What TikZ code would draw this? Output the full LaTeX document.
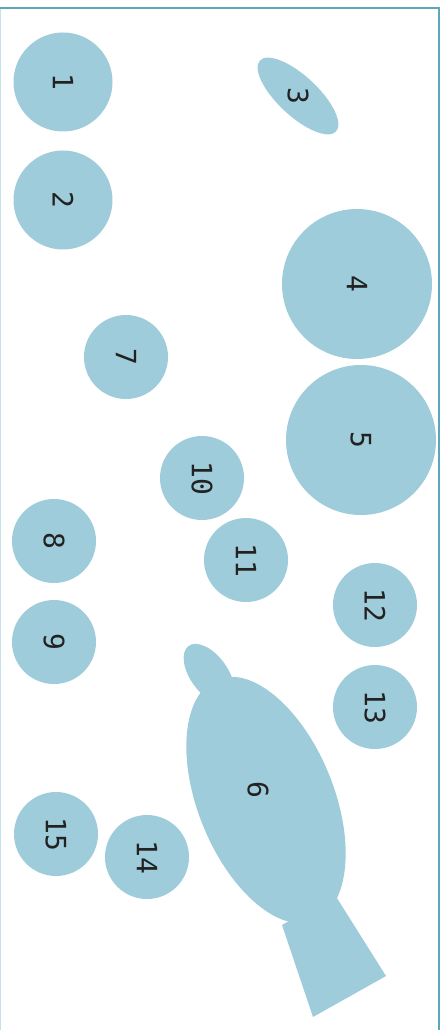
\documentclass[tikz,border=0pt]{standalone}
\usepackage{fontspec}
\newfontfamily\numfont{DejaVu Sans Mono}
\usetikzlibrary{shapes.geometric}
\definecolor{blobc}{HTML}{9FCCDA}
\definecolor{framec}{HTML}{5BA8B8}
\definecolor{framel}{HTML}{C6E2E9}
\definecolor{txtc}{HTML}{222222}
\tikzset{
  blob/.style={circle, fill=blobc, inner sep=0pt, minimum size=#1},
  lbl/.style={text=txtc, font=\numfont\fontsize{21}{21}\selectfont, rotate=-90, inner sep=0pt},
}
\begin{document}
\begin{tikzpicture}[x=0.75pt,y=-0.75pt]
\useasboundingbox (0,0) rectangle (445,1030);
% frame
\draw[framel, line width=0.9pt] (0.5,8) -- (0.5,1030);
\draw[framec, line width=0.9pt] (0,8) -- (439,8) -- (439,1030);
% circles
\node[blob=74.25pt] (c1) at (63,82) {};
\node[blob=74.25pt] (c2) at (63,200) {};
\node[blob=112.5pt] (c4) at (357,284) {};
\node[blob=112.5pt] (c5) at (361,440) {};
\node[blob=63pt] (c7) at (126,357) {};
\node[blob=63pt] (c10) at (202,478) {};
\node[blob=63pt] (c11) at (246,560) {};
\node[blob=63pt] (c8) at (54,541) {};
\node[blob=63pt] (c9) at (54,642) {};
\node[blob=63pt] (c12) at (375,605) {};
\node[blob=63pt] (c13) at (375,707) {};
\node[blob=63pt] (c15) at (56,834) {};
\node[blob=63pt] (c14) at (147,857) {};
% ellipse 3
\node[ellipse, fill=blobc, inner sep=0pt, minimum width=78pt, minimum height=30pt, rotate=-43] (e3) at (298,96) {};
% fish 6
\fill[blobc] (335,895) -- (386,976) -- (313,1017) -- (282,925) -- cycle;
\node[ellipse, fill=blobc, inner sep=0pt, minimum width=52pt, minimum height=28pt, rotate=-54] (h6) at (209,674) {};
\node[ellipse, fill=blobc, inner sep=0pt, minimum width=195pt, minimum height=102pt, rotate=-68] (e6) at (266,800) {};
% labels
\node[lbl] (t1) at (c1) {1};
\node[lbl] (t2) at (c2) {2};
\node[lbl] (t3) at (e3) {3};
\node[lbl] (t4) at (c4) {4};
\node[lbl] (t5) at (c5) {5};
\node[lbl] (t6) at (258,790) {6};
\node[lbl] (t7) at (c7) {7};
\node[lbl] (t8) at (c8) {8};
\node[lbl] (t9) at (c9) {9};
\node[lbl] (t10) at (c10) {10};
\node[lbl] (t11) at (c11) {11};
\node[lbl] (t12) at (c12) {12};
\node[lbl] (t13) at (c13) {13};
\node[lbl] (t14) at (c14) {14};
\node[lbl] (t15) at (c15) {15};
\end{tikzpicture}
\end{document}
